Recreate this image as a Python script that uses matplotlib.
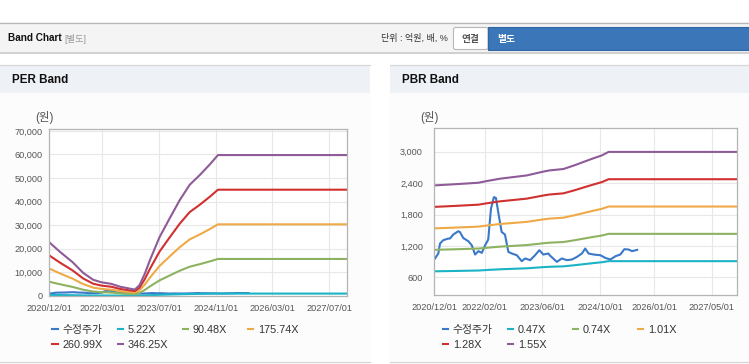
import matplotlib
matplotlib.use("Agg")
import matplotlib.pyplot as plt
import matplotlib.dates as mdates
from matplotlib.patches import Rectangle, FancyBboxPatch
from matplotlib.legend import Legend
import pandas as pd

plt.rcParams['font.family'] = ['Liberation Sans', 'Noto Sans CJK KR', 'DejaVu Sans']

# ---------------- data ----------------
stock_dates = ['2020-12-07', '2021-01-04', '2021-01-18', '2021-02-15', '2021-03-28', '2021-04-12',
               '2021-05-09', '2021-06-21', '2021-07-05', '2021-08-03', '2021-09-14', '2021-10-13',
               '2021-11-10', '2021-12-08', '2022-01-06', '2022-02-03', '2022-03-01', '2022-03-24',
               '2022-04-18', '2022-05-05', '2022-05-24', '2022-06-22', '2022-07-20', '2022-08-18',
               '2022-09-16', '2022-10-28', '2022-12-09', '2023-01-06', '2023-02-18', '2023-03-31',
               '2023-05-06', '2023-06-09', '2023-07-21', '2023-08-01', '2023-10-01', '2023-11-12',
               '2023-12-24', '2024-02-05', '2024-03-18', '2024-04-29', '2024-05-27', '2024-06-24',
               '2024-08-06', '2024-10-02', '2024-11-14', '2024-12-26', '2025-02-06', '2025-03-19',
               '2025-04-22', '2025-05-28', '2025-06-26', '2025-08-08']
stock_price = [960, 1055, 1245, 1310, 1340, 1340,
               1415, 1480, 1465, 1350, 1290, 1213,
               1035, 1100, 1067, 1213, 1322, 1912,
               2133, 2115, 1848, 1467, 1417, 1085,
               1055, 1022, 908, 960, 928, 1022,
               1118, 1035, 1055, 1022, 895, 960,
               928, 940, 990, 1055, 1150, 1055,
               1035, 1022, 970, 940, 1003, 1035,
               1137, 1131, 1100, 1124]

# PER band: EPS (원) over time and multiples
eps_dates = ['2020-12-01', '2021-03-01', '2021-06-20', '2021-09-18', '2021-12-13', '2022-02-20',
             '2022-05-18', '2022-08-01', '2022-12-05', '2023-01-15', '2023-03-01', '2023-04-15',
             '2023-07-06', '2023-10-01', '2023-12-25', '2024-03-20', '2024-06-15', '2024-09-09',
             '2024-11-18', '2027-12-01']
eps_values = [65.5, 54, 41, 28, 19.5, 16.5,
              14.5, 11, 7.5, 13, 27, 44,
              72, 95, 117, 136, 148, 161,
              172.5, 172.5]
per_multiples = [5.22, 90.48, 175.74, 260.99, 346.25]
per_labels = ['5.22X', '90.48X', '175.74X', '260.99X', '346.25X']

# PBR band: BPS (원) over time and multiples
bps_dates = ['2020-12-01', '2021-06-01', '2021-12-08', '2022-02-15', '2022-06-10', '2023-01-20',
             '2023-06-09', '2023-08-01', '2023-11-25', '2024-02-25', '2024-05-25', '2024-08-10',
             '2024-10-15', '2024-12-10', '2027-12-01']
bps_values = [1520, 1535, 1553, 1573, 1603, 1643,
              1690, 1705, 1722, 1767, 1816, 1857,
              1890, 1933, 1933]
pbr_multiples = [0.47, 0.74, 1.01, 1.28, 1.55]
pbr_labels = ['0.47X', '0.74X', '1.01X', '1.28X', '1.55X']

stock_label = '수정주가'
per_xticks = ['2020-12-01', '2022-03-01', '2023-07-01', '2024-11-01', '2026-03-01', '2027-07-01']
pbr_xticks = ['2020-12-01', '2022-02-01', '2023-06-01', '2024-10-01', '2026-01-01', '2027-05-01']
per_yticks = [0, 10000, 20000, 30000, 40000, 50000, 60000, 70000]
pbr_yticks = [600, 1200, 1800, 2400, 3000]

stock_color = '#3a78c9'
band_colors = ['#1bb3c6', '#8db360', '#eeaa46', '#d0302e', '#8e5b98']

# ---------------- figure ----------------
W, H = 749, 364
fig = plt.figure(figsize=(W / 100, H / 100), dpi=100)
fig.patch.set_facecolor('white')

bg = fig.add_axes([0, 0, 1, 1], zorder=-10)
bg.set_xlim(0, W)
bg.set_ylim(H, 0)
bg.axis('off')

# header bar
bg.add_patch(Rectangle((0, 22), W, 30.5, fc='#f4f4f4', ec='none'))
bg.plot([0, W], [22.5, 22.5], color='#b8b8b8', lw=0.9)
bg.plot([0, W], [52.8, 52.8], color='#cdcdcd', lw=1.3)
bg.text(8, 38, 'Band Chart', fontsize=7.2, fontweight='bold', color='#111', va='center', ha='left')
bg.text(64.5, 38.5, '[별도]', fontsize=6.6, color='#999', va='center', ha='left')
bg.text(448, 38.5, '단위 : 억원, 배, %', fontsize=6.5, color='#333', va='center', ha='right')
bg.add_patch(FancyBboxPatch((453.5, 27.5), 34.5, 22, boxstyle='round,pad=0,rounding_size=2',
                            fc='white', ec='#b8b8b8', lw=0.8))
bg.text(470.8, 38.8, '연결', fontsize=7, color='#555', fontweight='bold', va='center', ha='center')
bg.add_patch(Rectangle((488, 27), W - 488 + 2, 23, fc='#3a76b8', ec='#2f66a3', lw=0.8))
bg.text(506, 38.8, '별도', fontsize=7, color='white', fontweight='bold', va='center', ha='center')

# panels
for x0, x1, title in [(0, 370, 'PER Band'), (390, W + 1, 'PBR Band')]:
    bg.add_patch(Rectangle((x0, 93), x1 - x0, 268, fc='#fcfcfc', ec='none'))
    bg.add_patch(Rectangle((x0, 65), x1 - x0, 28, fc='#eef1f6', ec='none'))
    bg.plot([x0, x1], [64.5, 64.5], color='#d8d8d8', lw=0.9)
    bg.plot([x0, x1], [361.5, 361.5], color='#d4d4d4', lw=0.9)
    bg.text(x0 + 11.5, 80, title, fontsize=8.4, fontweight='bold', color='#111', va='center', ha='left')

bg.text(44, 118, '(원)', fontsize=8.3, color='#555', va='center', ha='center')
bg.text(429, 118, '(원)', fontsize=8.3, color='#555', va='center', ha='center')


def px_axes(l, t, r, b):
    return fig.add_axes([l / W, 1 - b / H, (r - l) / W, (b - t) / H])


def style(ax, xticks, yticks, ylim, ypad):
    ax.set_facecolor('white')
    ax.set_xlim(pd.Timestamp('2020-12-01'), pd.Timestamp('2027-12-01'))
    ax.set_ylim(*ylim)
    ax.set_xticks(pd.to_datetime(xticks))
    ax.xaxis.set_major_formatter(mdates.DateFormatter('%Y/%m/%d'))
    ax.set_yticks(yticks)
    ax.set_yticklabels([f'{v:,}' for v in yticks])
    ax.grid(True, color='#e8e8e8', lw=0.8)
    ax.set_axisbelow(True)
    for s in ax.spines.values():
        s.set_color('#b4b4b4')
        s.set_linewidth(0.9)
    ax.tick_params(axis='both', length=0, labelsize=6.6, labelcolor='#555')
    ax.tick_params(axis='x', pad=5.8)
    ax.tick_params(axis='y', pad=ypad)


def grid_legend(ax, x0, y0):
    handles, labels = ax.get_legend_handles_labels()
    for i, (h, l) in enumerate(zip(handles, labels)):
        row, col = divmod(i, 4)
        leg = Legend(ax, [h], [l], loc='center left',
                     bbox_to_anchor=((x0 + 65 * col) / W, 1 - (y0 + 14.5 * row) / H),
                     bbox_transform=fig.transFigure, frameon=False, fontsize=7.8,
                     handlelength=0.55, handletextpad=0.4, borderpad=0, borderaxespad=0,
                     labelcolor='#333')
        ax.add_artist(leg)


sd = pd.to_datetime(stock_dates)

# PER chart
ax1 = px_axes(49.3, 129, 347, 295.7)
ed = pd.to_datetime(eps_dates)
ax1.plot(sd, stock_price, color=stock_color, lw=1.5, label=stock_label)
for m, lab, c in zip(per_multiples, per_labels, band_colors):
    ax1.plot(ed, [m * e for e in eps_values], color=c, lw=1.5, label=lab)
style(ax1, per_xticks, per_yticks, (0, 70800), 4.6)
grid_legend(ax1, 52.5, 330)

# PBR chart
ax2 = px_axes(434.3, 128.3, 737.3, 295)
bd = pd.to_datetime(bps_dates)
ax2.plot(sd, stock_price, color=stock_color, lw=1.5, label=stock_label)
for m, lab, c in zip(pbr_multiples, pbr_labels, band_colors):
    ax2.plot(bd, [m * b for b in bps_values], color=c, lw=1.5, label=lab)
style(ax2, pbr_xticks, pbr_yticks, (262, 3447), 8.2)
grid_legend(ax2, 442.5, 330)

fig.savefig('out.png', dpi=100, facecolor='white')
